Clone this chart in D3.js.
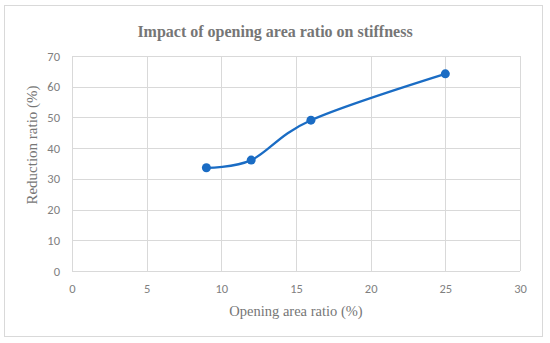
<!DOCTYPE html>
<html>
  <head>
    <meta charset="utf-8">
    <title>Impact of opening area ratio on stiffness</title>
    <script src="https://cdn.jsdelivr.net/npm/d3@7/dist/d3.min.js"></script>
    <style>
      body { margin: 0; background: #fff; }
      .tick text { font-family: Carlito, "Liberation Sans", "DejaVu Sans", sans-serif; fill: #7f7f7f; font-size: 12.5px; }
      .lbl { font-family: "Liberation Serif", "DejaVu Serif", serif; fill: #767676; }
    </style>
  </head>
  <body>
    <script type="text/javascript">

    var width = 550,
        height = 343;

    // chart values
    var openingRatio = [9, 12, 16, 25];
    var reductionRatio = [33.6, 36.1, 49.1, 64.2];
    var xTicks = [0, 5, 10, 15, 20, 25, 30];
    var yTicks = [0, 10, 20, 30, 40, 50, 60, 70];

    var margin = {top: 56, right: 30, bottom: 72, left: 72};

    var svg = d3.select("body").append("svg")
        .attr("width", width)
        .attr("height", height);

    // outer chart border
    svg.append("rect")
        .attr("x", 4.5).attr("y", 5.5)
        .attr("width", 538).attr("height", 331)
        .attr("fill", "#fff")
        .attr("stroke", "#d9d9d9");

    var x = d3.scaleLinear()
        .domain([0, 30])
        .range([margin.left, width - margin.right]);

    var y = d3.scaleLinear()
        .domain([0, 70])
        .range([height - margin.bottom, margin.top]);

    // grid
    svg.append("g")
        .selectAll("line.v")
        .data(xTicks).enter()
        .append("line")
        .attr("x1", function(d) { return Math.round(x(d)) + 0.5; })
        .attr("x2", function(d) { return Math.round(x(d)) + 0.5; })
        .attr("y1", y(0)).attr("y2", y(70))
        .attr("stroke", "#d9d9d9");

    svg.append("g")
        .selectAll("line.h")
        .data(yTicks).enter()
        .append("line")
        .attr("y1", function(d) { return Math.round(y(d)) + 0.5; })
        .attr("y2", function(d) { return Math.round(y(d)) + 0.5; })
        .attr("x1", x(0)).attr("x2", x(30))
        .attr("stroke", "#d9d9d9");

    // axes (labels only)
    var xAxis = svg.append("g")
        .attr("transform", "translate(0," + y(0) + ")")
        .call(d3.axisBottom(x).tickValues(xTicks).tickSize(0).tickPadding(13));
    xAxis.select(".domain").remove();

    var yAxis = svg.append("g")
        .attr("transform", "translate(" + x(0) + ",0)")
        .call(d3.axisLeft(y).tickValues(yTicks).tickSize(0).tickPadding(12));
    yAxis.select(".domain").remove();

    // title and axis titles
    svg.append("text")
        .attr("class", "lbl")
        .attr("x", 275).attr("y", 37)
        .attr("text-anchor", "middle")
        .style("font-size", "16px")
        .style("font-weight", "bold")
        .text("Impact of opening area ratio on stiffness");

    svg.append("text")
        .attr("class", "lbl")
        .attr("x", (x(0) + x(30)) / 2).attr("y", 316)
        .attr("text-anchor", "middle")
        .style("font-size", "14.5px")
        .text("Opening area ratio (%)");

    svg.append("text")
        .attr("class", "lbl")
        .attr("transform", "translate(37,145) rotate(-90)")
        .attr("text-anchor", "middle")
        .style("font-size", "15px")
        .text("Reduction ratio (%)");

    // smoothed line
    var pts = openingRatio.map(function(d, i) { return [d, reductionRatio[i]]; });

    var line = d3.line()
        .x(function(d) { return x(d[0]); })
        .y(function(d) { return y(d[1]); })
        .curve(d3.curveCardinal.tension(0));

    svg.append("path")
        .datum(pts)
        .attr("d", line)
        .attr("fill", "none")
        .attr("stroke", "#1a6cc4")
        .attr("stroke-width", 2.25);

    svg.selectAll("circle")
        .data(pts).enter()
        .append("circle")
        .attr("cx", function(d) { return x(d[0]); })
        .attr("cy", function(d) { return y(d[1]); })
        .attr("r", 4.5)
        .attr("fill", "#1a6cc4");

    </script>
  </body>
</html>
